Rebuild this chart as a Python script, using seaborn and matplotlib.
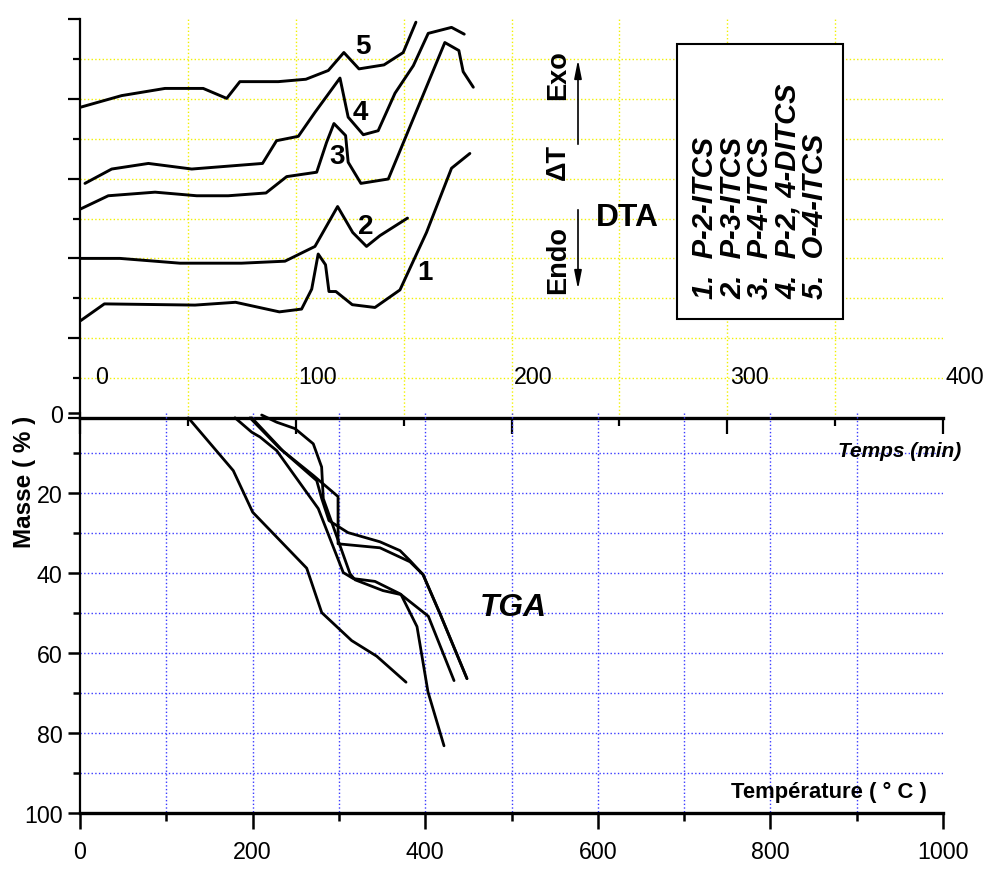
import numpy as np
import matplotlib
matplotlib.use("Agg")
import matplotlib.pyplot as plt
import seaborn as sns
from matplotlib import font_manager
from matplotlib.patches import Rectangle, FancyArrowPatch
from matplotlib.transforms import blended_transform_factory, ScaledTranslation

sns.set_theme(style="ticks", rc={"axes.edgecolor": "black", "xtick.color": "black",
                                 "ytick.color": "black", "text.color": "black"})
plt.rcParams['font.family'] = ['Liberation Sans', 'DejaVu Sans']

# narrow face for the numbers if it is there
names = {f.name for f in font_manager.fontManager.ttflist}
NARROW = 'Liberation Sans Narrow' if 'Liberation Sans Narrow' in names else 'Liberation Sans'
SHRINK = 1.0 if NARROW == 'Liberation Sans Narrow' else 0.88

# DTA curves : time (min) / signal (arbitrary units)
dta1_t = [0.3, 11.3, 53.3, 72.1, 92.4, 102.7, 107.4, 110.4, 113.8, 115.4, 118.6, 126.2, 136.7, 148.3, 160.6, 172.2, 180.7]
dta1_y = [2.44, 2.86, 2.83, 2.90, 2.66, 2.73, 3.23, 4.11, 3.84, 3.17, 3.17, 2.84, 2.77, 3.21, 4.65, 6.26, 6.63]
dta2_t = [0.3, 18.5, 46.3, 74.9, 95.0, 108.9, 119.4, 126.4, 132.8, 139.0, 151.8]
dta2_y = [4.00, 4.00, 3.88, 3.88, 3.93, 4.30, 5.30, 4.65, 4.30, 4.57, 5.01]
dta3_t = [0.3, 13.1, 34.8, 54.1, 68.7, 86.2, 95.8, 109.7, 114.3, 117.7, 123.1, 124.3, 130.2, 142.9, 169.1, 175.6, 177.6, 182.3]
dta3_y = [5.24, 5.57, 5.66, 5.57, 5.57, 5.64, 6.05, 6.16, 6.91, 7.38, 7.08, 6.41, 5.88, 5.99, 9.41, 9.21, 8.68, 8.29]
dta4_t = [2.3, 14.7, 31.7, 51.8, 84.6, 91.1, 101.2, 108.9, 120.5, 124.3, 131.3, 138.2, 146.0, 154.5, 161.4, 172.2, 178.1]
dta4_y = [5.88, 6.24, 6.38, 6.24, 6.38, 6.95, 7.06, 7.66, 8.52, 7.54, 7.10, 7.20, 8.14, 8.83, 9.64, 9.79, 9.62]
dta5_t = [0.3, 19.3, 39.4, 57.1, 68.0, 74.1, 91.9, 104.7, 115.1, 122.3, 129.3, 140.9, 149.8, 155.7]
dta5_y = [7.79, 8.08, 8.26, 8.26, 8.01, 8.43, 8.43, 8.49, 8.71, 9.16, 8.75, 8.85, 9.16, 9.92]

# TGA curves : temperature (C) / mass loss (%)
tga1_T = [125.5, 177.6, 200.1, 262.7, 280.1, 314.8, 343.8, 377.8]
tga1_m = [1.2, 14.4, 24.8, 38.8, 49.9, 56.9, 60.8, 67.3]
tga2_T = [179.6, 199.0, 208.6, 227.9, 276.1, 305.1, 316.7, 341.8, 370.8, 403.6, 433.4]
tga2_m = [1.2, 4.8, 6.0, 9.4, 23.9, 39.9, 41.4, 42.1, 45.2, 50.8, 66.9]
tga3_T = [197.0, 231.7, 270.3, 299.0, 299.0, 347.6, 382.4, 397.5, 417.2, 448.4]
tga3_m = [1.2, 8.9, 15.6, 20.9, 32.7, 33.7, 37.2, 40.4, 50.2, 66.4]
tga4_T = [199.0, 235.6, 274.3, 280.1, 288.5, 310.5, 347.6, 370.8, 382.4, 397.5, 417.2, 448.4]
tga4_m = [1.2, 9.6, 16.9, 21.4, 26.9, 29.9, 32.2, 34.4, 36.9, 40.4, 50.2, 66.4]
tga5_T = [210.5, 227.9, 249.1, 270.3, 280.0, 281.9, 312.9, 318.7, 351.1, 372.0, 390.5, 403.2, 421.8]
tga5_m = [0.5, 2.3, 3.9, 7.7, 13.5, 21.4, 40.2, 41.7, 44.4, 45.4, 53.4, 69.7, 83.2]

dta_ticks = [0, 100, 200, 300, 400]
tga_xticks = [0, 200, 400, 600, 800, 1000]
tga_yticks = [0, 20, 40, 60, 80, 100]
legend_items = ["1.  P-2-ITCS", "2.  P-3-ITCS", "3.  P-4-ITCS", "4.  P-2, 4-DITCS", "5.  O-4-ITCS"]

W, H = 985, 870
fig = plt.figure(figsize=(W / 100, H / 100), dpi=100)
ax_dta = fig.add_axes([80 / W, 451 / H, 863 / W, 399 / H])
ax_tga = fig.add_axes([80 / W, 56 / H, 863 / W, 400 / H])
for ax in (ax_dta, ax_tga):
    ax.set_facecolor('none')

# ---- DTA panel
for t, y in [(dta1_t, dta1_y), (dta2_t, dta2_y), (dta3_t, dta3_y), (dta4_t, dta4_y), (dta5_t, dta5_y)]:
    sns.lineplot(x=t, y=y, ax=ax_dta, color='black', lw=2.1, sort=False, estimator=None)
ax_dta.set_xlim(0, 400)
ax_dta.set_ylim(0, 10)
ax_dta.hlines(np.arange(1, 10), 0, 400, colors='#f2f200', linestyles=':', lw=1, zorder=0)
ax_dta.vlines(np.arange(50, 400, 50), 0, 10, colors='#f2f200', linestyles=':', lw=1, zorder=0)
ax_dta.set_xticks(dta_ticks)
ax_dta.set_xticks(np.arange(50, 400, 100), minor=True)
ax_dta.set_yticks(np.arange(0, 11, 2))
ax_dta.set_yticks(np.arange(1, 10, 2), minor=True)
ax_dta.tick_params(axis='x', which='major', length=11.5, width=1.6, labelbottom=False)
ax_dta.tick_params(axis='x', which='minor', length=6, width=1.6)
ax_dta.tick_params(axis='y', which='major', length=9, width=1.6, labelleft=False)
ax_dta.tick_params(axis='y', which='minor', length=5, width=1.6)
sns.despine(ax=ax_dta)
ax_dta.spines['left'].set_linewidth(1.6)
ax_dta.spines['bottom'].set_linewidth(2.4)

# time labels sit above the axis line, a little right of the ticks
trans = blended_transform_factory(ax_dta.transData, ax_dta.transAxes) + \
    ScaledTranslation(0.22, 0, fig.dpi_scale_trans)
for v in dta_ticks:
    ax_dta.text(v, 0.105, str(v), transform=trans, ha='center', va='center',
                fontsize=19 * SHRINK, family=NARROW)

# curve numbers
for txt, (tx, ty) in zip("12345", [(159.9, 3.66), (132.5, 4.81), (119.1, 6.57), (129.7, 7.67), (131.1, 9.32)]):
    ax_dta.text(tx, ty, txt, ha='center', va='center', fontsize=20, fontweight='bold', family=NARROW)

# ---- TGA panel
for T, m in [(tga1_T, tga1_m), (tga2_T, tga2_m), (tga3_T, tga3_m), (tga4_T, tga4_m), (tga5_T, tga5_m)]:
    sns.lineplot(x=T, y=m, ax=ax_tga, color='black', lw=2.0, sort=False, estimator=None)
ax_tga.set_xlim(0, 1000)
ax_tga.set_ylim(100, 0)
ax_tga.hlines(np.arange(10, 100, 10), 0, 1000, colors='#3b3bff', linestyles=':', lw=1, zorder=0)
ax_tga.vlines(np.arange(100, 1000, 100), 0, 100, colors='#3b3bff', linestyles=':', lw=1, zorder=0)
ax_tga.set_xticks(tga_xticks)
ax_tga.set_xticks(np.arange(100, 1000, 200), minor=True)
ax_tga.set_yticks(tga_yticks)
ax_tga.set_yticks(np.arange(10, 100, 20), minor=True)
ax_tga.tick_params(axis='x', which='major', length=11.5, width=1.8, pad=8, labelsize=19 * SHRINK)
ax_tga.tick_params(axis='x', which='minor', length=6, width=1.8)
ax_tga.tick_params(axis='y', which='major', length=8.5, width=1.8, pad=4, labelsize=19 * SHRINK)
ax_tga.tick_params(axis='y', which='minor', length=5, width=1.8)
for lab in ax_tga.get_xticklabels() + ax_tga.get_yticklabels():
    lab.set_fontfamily(NARROW)
sns.despine(ax=ax_tga)
ax_tga.spines['left'].set_linewidth(1.6)
ax_tga.spines['bottom'].set_linewidth(2.4)
ax_tga.set_xlabel('')
ax_tga.set_ylabel('')


def fx(x):
    return x / W


def fy(y):
    return 1 - y / H


fig.text(fx(900), fy(452), "Temps (min)", ha='center', va='center', fontsize=15,
         fontweight='bold', style='italic')
fig.text(fx(829), fy(792), "Température ( ° C )", ha='center', va='center', fontsize=18 * SHRINK,
         fontweight='bold', family=NARROW)
fig.text(fx(25), fy(482), "Masse ( % )", ha='center', va='center', fontsize=17.5,
         fontweight='bold', rotation=90)
fig.text(fx(513), fy(608), "TGA", ha='center', va='center', fontsize=26 * SHRINK,
         fontweight='bold', style='italic', family=NARROW)
fig.text(fx(627), fy(218), "DTA", ha='center', va='center', fontsize=26 * SHRINK,
         fontweight='bold', family=NARROW)

# Exo / Endo marker
for txt, yy in [("Exo", 75), ("ΔT", 162), ("Endo", 260)]:
    fig.text(fx(558), fy(yy), txt, ha='center', va='center', fontsize=19.5,
             fontweight='bold', rotation=90)
for y0, y1 in [(148, 58), (208, 293)]:
    fig.add_artist(FancyArrowPatch((fx(578), fy(y0)), (fx(578), fy(y1)), transform=fig.transFigure,
                                   arrowstyle='-|>,head_length=1.1,head_width=0.22',
                                   mutation_scale=10, lw=1.2, color='black'))

# legend box
fig.add_artist(Rectangle((fx(677), fy(320)), 166 / W, 275 / H, transform=fig.transFigure,
                         facecolor='white', edgecolor='black', lw=1.5, zorder=3))
for txt, xx in zip(legend_items, [705, 733, 760, 788, 815]):
    fig.text(fx(xx), fy(299), txt, ha='center', va='bottom', rotation=90, fontsize=21,
             fontweight='bold', style='italic', zorder=5)

fig.savefig("out.png", dpi=100)
